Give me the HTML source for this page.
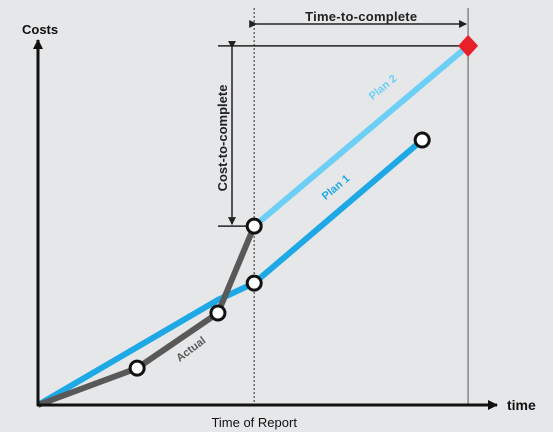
<!DOCTYPE html>
<html><head><meta charset="utf-8"><style>
html,body{margin:0;padding:0;background:#e6e7e9;}
svg{display:block;font-family:"Liberation Sans",sans-serif;}
</style></head><body>
<svg id="c" width="553" height="432" viewBox="0 0 553 432">
<defs>
<marker id="ah" markerWidth="10" markerHeight="10" refX="9" refY="5" orient="auto" markerUnits="userSpaceOnUse"><path d="M0,0 L10,5 L0,10 z" fill="#111"/></marker>
<marker id="sa" markerWidth="8" markerHeight="8" refX="7" refY="4" orient="auto" markerUnits="userSpaceOnUse"><path d="M0,0 L8,4 L0,8 z" fill="#222"/></marker>
</defs>
<rect x="0" y="0" width="553" height="432" fill="#e6e7e9"/>
<g id="marks"></g>
</svg>
<script>
const actualT=[0,21.6,39.2,47.1];
const actualC=[0,10.1,25.2,49.0];
const plan1T=[0,39.2,47.1,83.7];
const plan1C=[0,28.8,33.4,72.6];
const plan2T=[47.1,93.7];
const plan2C=[49.0,98.4];
const reportT=47.1;
const NS="http://www.w3.org/2000/svg";
function x(t){return 38+t*4.59;}
function y(c){return 405-c*3.65;}
const g=document.getElementById('marks');
function mk(tag,attrs,name){const e=document.createElementNS(NS,tag);for(const k in attrs)e.setAttribute(k,attrs[k]);


g.appendChild(e);return e;}
function pts(T,C){return T.map((t,i)=>x(t)+','+y(C[i])).join(' ');}
const rx=x(reportT), ex=x(plan2T[plan2T.length-1]), ey=y(plan2C[plan2C.length-1]), ay=y(actualC[actualC.length-1]);
// reference lines
mk('line',{x1:rx,y1:8,x2:rx,y2:405,stroke:'#555','stroke-width':1.3,'stroke-dasharray':'2,2'},'time-of-report-line');
mk('line',{x1:ex,y1:8,x2:ex,y2:405,stroke:'#777','stroke-width':1.3},'completion-line');
mk('line',{x1:218,y1:ey,x2:ex,y2:ey,stroke:'#222','stroke-width':1.5},'completion-cost-line');
mk('line',{x1:218,y1:ay,x2:rx,y2:ay,stroke:'#222','stroke-width':1.5},'current-cost-line');
mk('line',{x1:232,y1:ey+2,x2:232,y2:ay-2,stroke:'#222','stroke-width':1.5,'marker-start':'url(#sa)','marker-end':'url(#sa)'},'cost-to-complete-arrow');
mk('line',{x1:rx+2,y1:24,x2:ex-2,y2:24,stroke:'#222','stroke-width':1.5,'marker-start':'url(#sa)','marker-end':'url(#sa)'},'time-to-complete-arrow');
// series
mk('polyline',{points:pts(plan2T,plan2C),fill:'none',stroke:'#6dcff6','stroke-width':6},'plan-2-line');
mk('polyline',{points:pts(plan1T,plan1C),fill:'none',stroke:'#1ea8e6','stroke-width':6},'plan-1-line');
mk('polyline',{points:pts(actualT,actualC),fill:'none',stroke:'#595959','stroke-width':6,'stroke-linejoin':'round'},'actual-line');
// axes
mk('line',{x1:38,y1:406,x2:38,y2:40,stroke:'#111','stroke-width':3,'marker-end':'url(#ah)'},'y-axis');
mk('line',{x1:37,y1:405,x2:497,y2:405,stroke:'#111','stroke-width':3,'marker-end':'url(#ah)'},'x-axis');
// markers
for(let i=1;i<actualT.length;i++)mk('circle',{cx:x(actualT[i]),cy:y(actualC[i]),r:7,fill:'#fff',stroke:'#111','stroke-width':3},'actual-point');
mk('circle',{cx:x(plan1T[2]),cy:y(plan1C[2]),r:7,fill:'#fff',stroke:'#111','stroke-width':3},'plan-1-report-point');
mk('circle',{cx:x(plan1T[3]),cy:y(plan1C[3]),r:7,fill:'#fff',stroke:'#111','stroke-width':3},'plan-1-end-point');
mk('polygon',{points:`${ex},${ey-11} ${ex+10},${ey} ${ex},${ey+11} ${ex-10},${ey}`,fill:'#e8202a'},'plan-2-end-diamond');
// labels
function tx(s,a,name){const e=mk('text',a,name);e.textContent=s;return e;}
tx('Costs',{x:22,y:34,'font-size':13,'font-weight':'bold',fill:'#111'},'y-axis-title');
tx('time',{x:507,y:410,'font-size':14,'font-weight':'bold',fill:'#111'},'x-axis-title');
tx('Time of Report',{x:rx,y:427,'font-size':13,'text-anchor':'middle',fill:'#111'},'time-of-report-label');
tx('Time-to-complete',{x:(rx+ex)/2,y:21,'font-size':13,'font-weight':'bold','text-anchor':'middle',fill:'#222','textLength':112},'time-to-complete-label');
tx('Cost-to-complete',{x:0,y:0,'font-size':13,'font-weight':'bold','text-anchor':'middle',fill:'#222',transform:`translate(227,${(ey+ay)/2+2}) rotate(-90)`},'cost-to-complete-label');
tx('Plan 2',{x:0,y:0,'font-size':11,'font-weight':'bold','text-anchor':'middle',fill:'#6dcff6',transform:'translate(385,90) rotate(-40)'},'plan-2-label');
tx('Plan 1',{x:0,y:0,'font-size':11,'font-weight':'bold','text-anchor':'middle',fill:'#1ea8e6',transform:'translate(338,190) rotate(-40)'},'plan-1-label');
tx('Actual',{x:0,y:0,'font-size':11,'font-weight':'bold','text-anchor':'middle',fill:'#595959',transform:'translate(193,352) rotate(-37)'},'actual-label');
</script>
</body></html>
